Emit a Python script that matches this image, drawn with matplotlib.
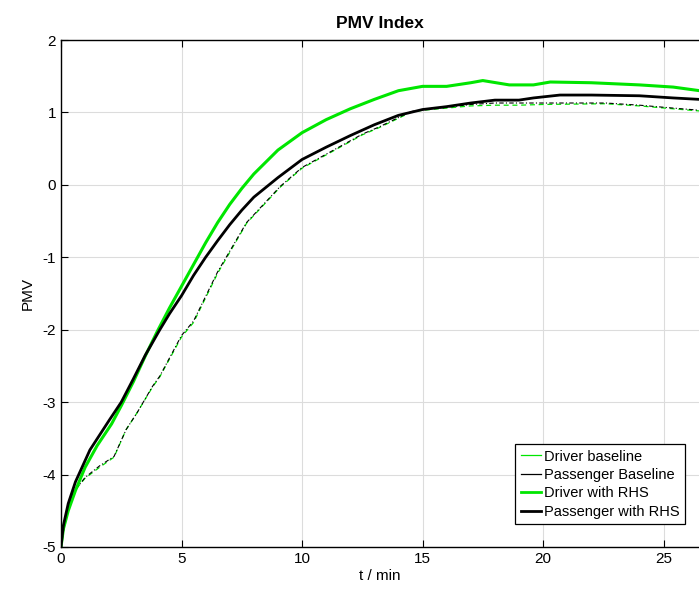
import matplotlib
matplotlib.use("Agg")
import matplotlib.pyplot as plt
from matplotlib.lines import Line2D

# --- data ---
t_drv_rhs = [0, 0.1, 0.3, 0.6, 1.0, 1.5, 2.1, 2.5, 3.0, 3.5, 4.0, 4.5, 5.0, 5.5, 6.0, 6.5, 7.0, 7.5, 8.0,
             9.0, 10.0, 11.0, 12.0, 13.0, 14.0, 15.0, 16.0, 17.0, 17.5, 18.6, 19.6, 20.3, 22.0, 24.0, 25.4, 26.5]
v_drv_rhs = [-5.0, -4.75, -4.5, -4.22, -3.9, -3.6, -3.3, -3.05, -2.72, -2.36, -2.02, -1.7, -1.4, -1.1, -0.8,
             -0.52, -0.27, -0.05, 0.15, 0.48, 0.72, 0.9, 1.05, 1.18, 1.3, 1.36, 1.36, 1.41, 1.44, 1.38, 1.38,
             1.42, 1.41, 1.38, 1.35, 1.3]

t_pas_rhs = [0, 0.1, 0.3, 0.6, 1.2, 2.0, 2.5, 3.0, 3.5, 4.1, 4.5, 5.0, 5.5, 6.0, 6.5, 7.0, 7.5, 8.0, 9.0,
             10.0, 11.0, 12.0, 13.0, 14.0, 15.0, 16.0, 17.0, 18.0, 19.0, 19.6, 20.7, 22.0, 24.0, 25.4, 26.5]
v_pas_rhs = [-5.0, -4.7, -4.4, -4.1, -3.66, -3.25, -3.0, -2.68, -2.35, -2.0, -1.78, -1.53, -1.25, -1.0, -0.77,
             -0.55, -0.35, -0.17, 0.1, 0.35, 0.52, 0.68, 0.83, 0.96, 1.04, 1.08, 1.13, 1.17, 1.17, 1.2, 1.24,
             1.24, 1.23, 1.2, 1.18]

t_drv_base = [0, 0.2, 0.5, 1.0, 1.6, 2.2, 2.7, 3.15, 3.8, 4.1, 5.0, 5.5, 6.5, 7.7, 9.1, 10.0, 11.2, 12.5,
              13.2, 14.5, 15.0, 16.0, 17.0, 18.0, 19.0, 20.0, 22.6, 24.0, 25.4, 26.5]
v_drv_base = [-5.0, -4.6, -4.25, -4.05, -3.9, -3.76, -3.38, -3.15, -2.79, -2.65, -2.1, -1.9, -1.22, -0.53,
              -0.03, 0.23, 0.45, 0.69, 0.79, 1.0, 1.03, 1.06, 1.09, 1.1, 1.1, 1.11, 1.12, 1.09, 1.05, 1.02]

t_pas_base = [0, 0.2, 0.5, 1.0, 1.6, 2.2, 2.7, 3.15, 3.8, 4.1, 5.0, 5.5, 6.5, 7.7, 9.1, 10.0, 11.2, 12.5,
              13.2, 14.5, 15.0, 16.0, 17.0, 18.0, 19.0, 20.0, 22.6, 24.0, 25.4, 26.5]
v_pas_base = [-5.0, -4.6, -4.25, -4.04, -3.88, -3.75, -3.38, -3.15, -2.78, -2.64, -2.08, -1.88, -1.2, -0.52,
              -0.02, 0.24, 0.46, 0.7, 0.8, 1.01, 1.04, 1.07, 1.11, 1.13, 1.13, 1.13, 1.13, 1.1, 1.06, 1.03]

labels = ["Driver baseline", "Passenger Baseline", "Driver with RHS", "Passenger with RHS"]
xticks = [0, 5, 10, 15, 20, 25]
yticks = [-5, -4, -3, -2, -1, 0, 1, 2]

plt.rcParams['font.family'] = ['Liberation Sans', 'DejaVu Sans']
plt.rcParams['axes.unicode_minus'] = False

fig = plt.figure(figsize=(6.99, 6.05), dpi=100)
ax = fig.add_axes([61 / 699, 58 / 605, (699 - 61) / 699, 507 / 605])

green = '#00e600'
ax.plot(t_drv_base, v_drv_base, color=green, lw=0.9, ls=(0, (4, 3)), label=labels[0])
ax.plot(t_pas_base, v_pas_base, color='black', lw=0.8, ls=(0, (4, 2, 1, 2)), label=labels[1])
ax.plot(t_drv_rhs, v_drv_rhs, color=green, lw=2.2, label=labels[2])
ax.plot(t_pas_rhs, v_pas_rhs, color='black', lw=2.0, label=labels[3])

ax.set_xlim(0, 26.47)
ax.set_ylim(-5, 2)
ax.set_xticks(xticks)
ax.set_yticks(yticks)
ax.grid(True, color='#dcdcdc', lw=0.8)
ax.set_axisbelow(True)
ax.tick_params(direction='in', top=True, right=False, labelsize=11, length=5, width=0.8)
ax.spines['right'].set_visible(False)
for s in ['left', 'top', 'bottom']:
    ax.spines[s].set_linewidth(1.0)

ax.set_title("PMV Index", fontsize=12.5, fontweight='bold', pad=9)
ax.set_xlabel("t / min", fontsize=11, labelpad=2)
ax.set_ylabel("PMV", fontsize=11, labelpad=6)

handles = [Line2D([], [], color=green, lw=0.9), Line2D([], [], color='black', lw=0.9),
           Line2D([], [], color=green, lw=2.0), Line2D([], [], color='black', lw=2.0)]
leg = ax.legend(handles, labels, loc='lower right', bbox_to_anchor=(0.99, 0.03), fontsize=10.5,
                frameon=True, fancybox=False, edgecolor='black', framealpha=1,
                handlelength=1.4, handletextpad=0.2, borderpad=0.4, labelspacing=0.3)
leg.get_frame().set_linewidth(0.9)

fig.savefig("out.png", dpi=100)
